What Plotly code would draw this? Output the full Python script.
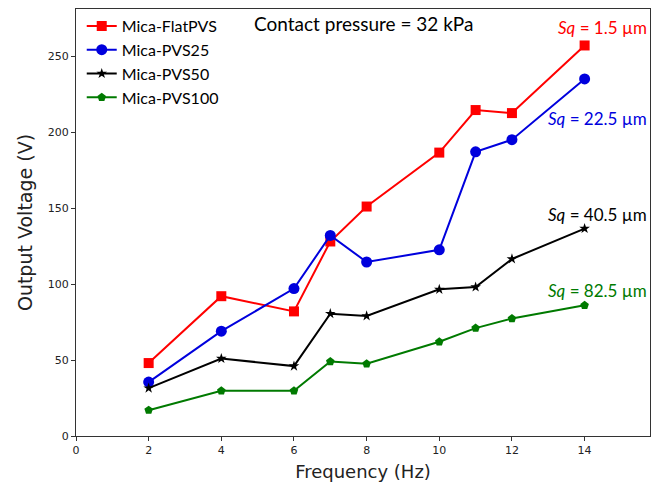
import plotly.graph_objects as go

freq = [2, 4, 6, 7, 8, 10, 11, 12, 14]
flat_pvs = [48, 92, 82, 128, 151, 186.5, 214.5, 212.5, 257]
pvs25 = [35.5, 69, 97, 132, 114.5, 122.5, 187, 195, 235]
pvs50 = [31.5, 51, 46, 80.5, 79, 96.5, 98, 116.5, 136.5]
pvs100 = [17, 29.7, 29.7, 49, 47.5, 62, 71, 77.3, 86]

names = ["Mica-FlatPVS", "Mica-PVS25", "Mica-PVS50", "Mica-PVS100"]
colors = ["#ff0000", "#0000dd", "#000000", "#007a00"]
symbols = ["square", "circle", "star", "pentagon"]
msizes = [10, 11, 8, 9]
series = [flat_pvs, pvs25, pvs50, pvs100]

sq_labels = ["1.5", "22.5", "40.5", "82.5"]
sq_y = [269, 209, 146, 96]

x_ticks = [0, 2, 4, 6, 8, 10, 12, 14]
y_ticks = [0, 50, 100, 150, 200, 250]

fig = go.Figure()
for n, c, s, ms, ys in zip(names, colors, symbols, msizes, series):
    fig.add_trace(go.Scatter(
        x=freq, y=ys, name=n, mode="lines+markers",
        line=dict(color=c, width=2),
        marker=dict(symbol=s, size=ms, color=c, line=dict(width=0)),
    ))

for lab, yv, c in zip(sq_labels, sq_y, colors):
    fig.add_annotation(
        x=15.78, y=yv, xref="x", yref="y", xanchor="right", yanchor="middle",
        text=f"<i>Sq</i> = {lab} µm", showarrow=False,
        font=dict(family="Lato", size=17, color=c),
    )

fig.add_annotation(
    x=0.5, y=0.965, xref="paper", yref="paper", xanchor="center", yanchor="middle",
    text="Contact pressure = 32 kPa", showarrow=False,
    font=dict(family="Lato", size=19, color="black"),
)

axis_common = dict(
    showline=True, linecolor="#333333", linewidth=1.3, mirror=True,
    ticks="outside", ticklen=4, tickwidth=1, tickcolor="#333333",
    showgrid=False, zeroline=False, automargin=False,
    tickfont=dict(family="DejaVu Sans", size=11, color="#222222"),
)

fig.update_layout(
    width=662, height=484,
    margin=dict(l=76, r=12, t=9, b=48),
    paper_bgcolor="white", plot_bgcolor="white",
    showlegend=True,
    legend=dict(
        x=0.01, y=1.0, xanchor="left", yanchor="top",
        bgcolor="rgba(255,255,255,0)", borderwidth=0,
        font=dict(family="Lato", size=16, color="black"),
        tracegroupgap=0, itemwidth=30,
    ),
    xaxis=dict(range=[0, 15.8], tickvals=x_ticks,
               title=dict(text="Frequency (Hz)", standoff=9,
                          font=dict(family="DejaVu Sans", size=18, color="#222222")),
               **axis_common),
    yaxis=dict(range=[0, 281], tickvals=y_ticks,
               title=dict(text="Output Voltage (V)", standoff=10,
                          font=dict(family="DejaVu Sans", size=19, color="#222222")),
               **axis_common),
)

fig.write_html("out.html")
